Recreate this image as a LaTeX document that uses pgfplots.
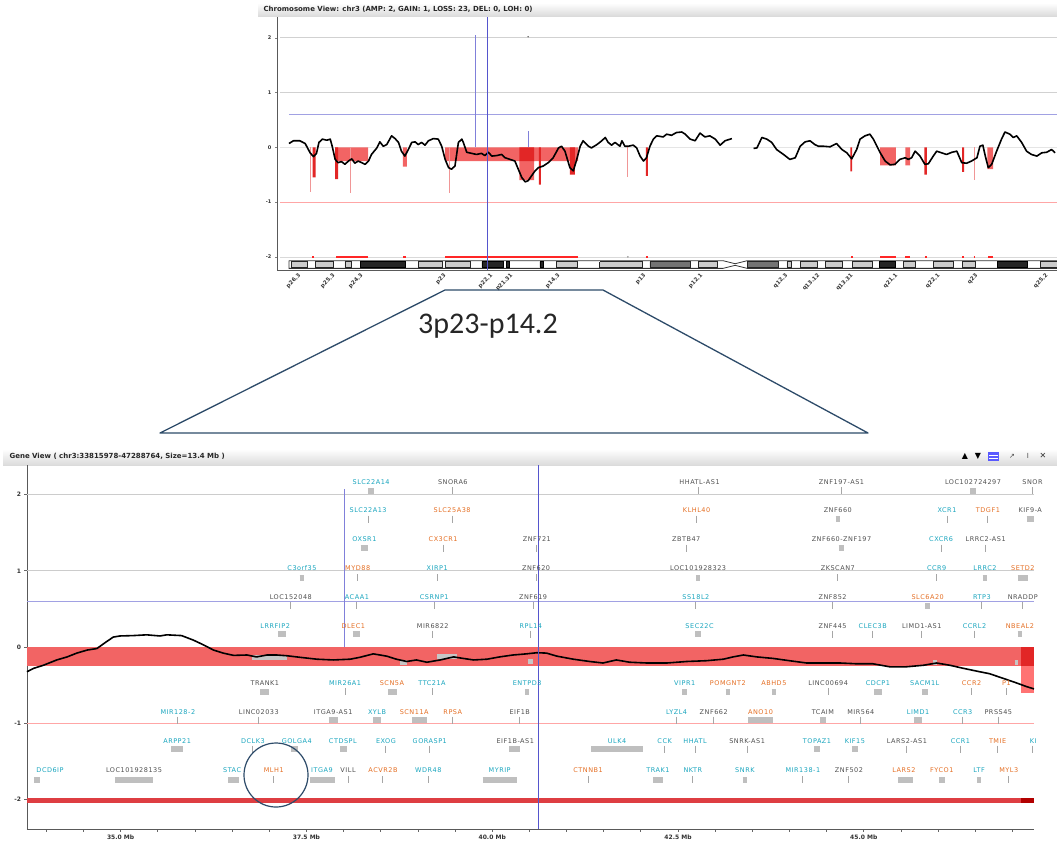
\documentclass[border=0pt]{standalone}
\usepackage{fontspec}
\setmainfont{DejaVu Sans}
\newfontfamily\genefont[LetterSpace=8]{DejaVu Sans}
\newfontfamily\calib{Carlito}
\usepackage{pgfplots}
\pgfplotsset{compat=1.18}
\definecolor{gcyan}{RGB}{25,165,190}
\definecolor{gorange}{RGB}{228,110,35}
\definecolor{ggray}{RGB}{80,80,80}
\definecolor{lossred}{RGB}{242,100,100}
\definecolor{darkloss}{RGB}{226,38,38}
\definecolor{pinkline}{RGB}{240,150,150}
\definecolor{cnvblue}{RGB}{85,85,205}
\definecolor{trap}{RGB}{45,75,105}
\definecolor{bandred}{RGB}{222,62,66}
\newcommand{\glfont}{\genefont\fontsize{6.5}{7.5}\selectfont}
\newcommand{\gnc}[3]{\node[inner sep=0pt,text=gcyan,font=\glfont] at (axis cs:#1,#2) {#3};}
\newcommand{\gno}[3]{\node[inner sep=0pt,text=gorange,font=\glfont] at (axis cs:#1,#2) {#3};}
\newcommand{\gny}[3]{\node[inner sep=0pt,text=ggray,font=\glfont] at (axis cs:#1,#2) {#3};}
\begin{document}
\begin{tikzpicture}[x=1pt,y=1pt]
\path[use as bounding box] (0,0) rectangle (1057,-841);
% ---------- title bars ----------
\shade[top color=white, bottom color=gray!28] (258,-3) rectangle (1057,-16);
\node[anchor=west, font=\bfseries\fontsize{7}{8}\selectfont, text=black!85] at (260,-9.5) {Chromosome View: chr3 (AMP: 2, GAIN: 1, LOSS: 23, DEL: 0, LOH: 0)};
% ---------- chromosome view ----------
\begin{axis}[at={(277pt,-17pt)}, anchor=north west, scale only axis,
  width=780pt, height=253pt,
  xmin=-2.44, xmax=156.4, ymin=-2.24, ymax=2.38,
  axis lines*=left, axis line style={draw=black!65, line width=0.8pt},
  clip=false, unbounded coords=jump,
  ytick={-2,-1,0,1,2}, yticklabels={-2,-1,0,1,2},
  yticklabel style={font=\bfseries\fontsize{5}{6}\selectfont, text=black!80},
  xtick={1.8,8.8,14.5,31.4,40.9,45.0,54.6,72.1,83.7,101.0,107.5,114.3,123.4,132.0,139.7,154.0},
  xticklabels={p26.3,p25.3,p24.3,p23,p22.1,p21.31,p14.3,p13,p12.1,q12.3,q13.12,q13.31,q21.1,q22.1,q23,q25.2},
  xticklabel style={font=\bfseries\fontsize{5.5}{6}\selectfont, rotate=45, anchor=north east, text=black!80, inner sep=0.5pt},
  xtick style={draw=none},
  tick align=outside, major tick length=2pt, ytick style={black!50}]
% reference lines
\addplot[black!18, line width=0.8pt] coordinates {(-1.8,2) (156.4,2)};
\addplot[black!18, line width=0.8pt] coordinates {(-1.8,1) (156.4,1)};
\addplot[black!10, line width=0.6pt] coordinates {(-1.8,0) (156.4,0)};
\addplot[black!15, line width=0.6pt] coordinates {(-1.8,-2) (156.4,-2)};
\addplot[cnvblue!55, line width=0.7pt] coordinates {(0,0.6) (156.4,0.6)};
\addplot[red!35, line width=0.7pt] coordinates {(-1.8,-1) (156.4,-1)};
% loss areas
\addplot[fill=lossred, draw=none] coordinates {
(9.4,0)(16.1,0)(16.1,-0.25)(9.4,-0.25)(9.4,nan)
(23.2,0)(24.0,0)(24.0,-0.35)(23.2,-0.35)(23.2,nan)
(31.8,0)(46.9,0)(46.9,-0.25)(31.8,-0.25)(31.8,nan)
(46.9,0)(49.9,0)(49.9,-0.6)(46.9,-0.6)(46.9,nan)
(49.9,0)(58.9,0)(58.9,-0.25)(49.9,-0.25)(49.9,nan)
(120.4,0)(123.6,0)(123.6,-0.33)(120.4,-0.33)(120.4,nan)
(125.5,0)(126.5,0)(126.5,-0.33)(125.5,-0.33)(125.5,nan)
(142.2,0)(143.4,0)(143.4,-0.40)(142.2,-0.40)};
\addplot[fill=darkloss, draw=none] coordinates {
(9.4,0)(10.0,0)(10.0,-0.58)(9.4,-0.58)(9.4,nan)
(4.8,0)(5.4,0)(5.4,-0.55)(4.8,-0.55)(4.8,nan)
(46.9,0)(49.9,0)(49.9,-0.25)(46.9,-0.25)(46.9,nan)
(57.2,0)(58.2,0)(58.2,-0.5)(57.2,-0.5)(57.2,nan)
(50.9,0)(51.3,0)(51.3,-0.68)(50.9,-0.68)(50.9,nan)
(72.7,0)(73.1,0)(73.1,-0.52)(72.7,-0.52)(72.7,nan)
(114.3,0)(114.7,0)(114.7,-0.44)(114.3,-0.44)(114.3,nan)
(129.4,0)(129.9,0)(129.9,-0.5)(129.4,-0.5)(129.4,nan)
(137.1,0)(137.5,0)(137.5,-0.45)(137.1,-0.45)};
\addplot[pinkline, line width=1pt] coordinates {
(4.4,0)(4.4,-0.82)(4.4,nan)(12.6,0)(12.6,-0.83)(12.6,nan)(32.6,0)(32.6,-0.83)(32.6,nan)
(69.0,0)(69.0,-0.55)(69.0,nan)(139.5,0)(139.5,-0.6)};
% loss markers at -2
\addplot[red!85, line width=1.8pt] coordinates {
(4.7,-2)(5.1,-2)(5.1,nan)(9.6,-2)(16.1,-2)(16.1,nan)(23.3,-2)(23.8,-2)(23.8,nan)
(31.8,-2)(58.9,-2)(58.9,nan)(72.7,-2)(73.2,-2)(73.2,nan)(114.4,-2)(114.9,-2)(114.9,nan)
(120.4,-2)(123.6,-2)(123.6,nan)(125.5,-2)(126.5,-2)(126.5,nan)(129.5,-2)(129.9,-2)(129.9,nan)
(137.1,-2)(137.5,-2)(137.5,nan)(139.4,-2)(139.7,-2)(139.7,nan)(142.4,-2)(143.4,-2)};
\addplot[only marks, mark=*, mark size=0.6pt, black!40] coordinates {(69.0,-2)};
% ideogram
\addplot[fill=white, draw=black!80, line width=0.8pt] coordinates {
(0,-2.07)(88.4,-2.07)(90.85,-2.125)(93.3,-2.07)(156.4,-2.07)(156.4,-2.21)(93.3,-2.21)(90.85,-2.155)(88.4,-2.21)(0,-2.21)(0,-2.07)};
\addplot[fill=gray!40, draw=black!85, line width=0.7pt] coordinates {
(0.4,-2.09)(3.7,-2.09)(3.7,-2.19)(0.4,-2.19)(0.4,-2.09)(0.4,nan)
(5.3,-2.09)(9.0,-2.09)(9.0,-2.19)(5.3,-2.19)(5.3,-2.09)(5.3,nan)
(11.4,-2.09)(12.6,-2.09)(12.6,-2.19)(11.4,-2.19)(11.4,-2.09)(11.4,nan)
(26.3,-2.09)(31.2,-2.09)(31.2,-2.19)(26.3,-2.19)(26.3,-2.09)(26.3,nan)
(31.8,-2.09)(36.9,-2.09)(36.9,-2.19)(31.8,-2.19)(31.8,-2.09)(31.8,nan)
(54.4,-2.09)(58.7,-2.09)(58.7,-2.19)(54.4,-2.19)(54.4,-2.09)(54.4,nan)
(63.3,-2.09)(71.9,-2.09)(71.9,-2.19)(63.3,-2.19)(63.3,-2.09)(63.3,nan)
(83.3,-2.09)(87.2,-2.09)(87.2,-2.19)(83.3,-2.19)(83.3,-2.09)(83.3,nan)
(101.4,-2.09)(102.4,-2.09)(102.4,-2.19)(101.4,-2.19)(101.4,-2.09)(101.4,nan)
(104.1,-2.09)(107.5,-2.09)(107.5,-2.19)(104.1,-2.19)(104.1,-2.09)(104.1,nan)
(109.2,-2.09)(112.6,-2.09)(112.6,-2.19)(109.2,-2.19)(109.2,-2.09)(109.2,nan)
(114.7,-2.09)(118.7,-2.09)(118.7,-2.19)(114.7,-2.19)(114.7,-2.09)(114.7,nan)
(125.1,-2.09)(127.5,-2.09)(127.5,-2.19)(125.1,-2.19)(125.1,-2.09)(125.1,nan)
(131.2,-2.09)(135.2,-2.09)(135.2,-2.19)(131.2,-2.19)(131.2,-2.09)(131.2,nan)
(137.1,-2.09)(139.7,-2.09)(139.7,-2.19)(137.1,-2.19)(137.1,-2.09)(137.1,nan)
(153.0,-2.09)(156.4,-2.09)(156.4,-2.19)(153.0,-2.19)(153.0,-2.09)};
\addplot[fill=black!55, draw=black!85, line width=0.7pt] coordinates {
(73.5,-2.09)(81.7,-2.09)(81.7,-2.19)(73.5,-2.19)(73.5,-2.09)(73.5,nan)
(93.3,-2.09)(99.6,-2.09)(99.6,-2.19)(93.3,-2.19)(93.3,-2.09)};
\addplot[fill=black!85, draw=black, line width=0.7pt] coordinates {
(14.5,-2.09)(23.6,-2.09)(23.6,-2.19)(14.5,-2.19)(14.5,-2.09)(14.5,nan)
(39.3,-2.09)(43.6,-2.09)(43.6,-2.19)(39.3,-2.19)(39.3,-2.09)(39.3,nan)
(44.2,-2.09)(44.8,-2.09)(44.8,-2.19)(44.2,-2.19)(44.2,-2.09)(44.2,nan)
(51.1,-2.09)(51.7,-2.09)(51.7,-2.19)(51.1,-2.19)(51.1,-2.09)(51.1,nan)
(120.2,-2.09)(123.4,-2.09)(123.4,-2.19)(120.2,-2.19)(120.2,-2.09)(120.2,nan)
(144.2,-2.09)(150.3,-2.09)(150.3,-2.19)(144.2,-2.19)(144.2,-2.09)};
% log2 ratio trace
\addplot[black, line width=1.6pt, line join=round] coordinates {
(0,0.07)(0.9,0.12)(2.2,0.12)(3.3,0.07)(4.3,-0.10)(5.0,-0.17)(5.6,-0.11)(6.1,0.09)(6.8,0.15)(7.7,0.13)(8.4,0.15)(8.8,0.02)(9.4,-0.22)(10.0,-0.28)(10.7,-0.26)(11.4,-0.31)(12.1,-0.25)(12.8,-0.21)(13.4,-0.29)(14.1,-0.25)(14.8,-0.28)(15.5,-0.31)(16.2,-0.25)(16.8,-0.13)(17.9,-0.01)(18.5,0.10)(19.2,0.02)(19.9,0.05)(20.9,0.21)(21.6,0.16)(22.3,0.09)(22.9,-0.07)(23.6,-0.16)(24.3,-0.04)(25.0,0.09)(25.7,0.10)(26.3,0.05)(27.0,0.09)(27.7,0.04)(28.4,0.12)(29.4,0.16)(30.4,0.15)(31.1,0.02)(31.8,-0.22)(32.5,-0.37)(33.1,-0.40)(33.8,-0.34)(34.5,0.09)(35.2,0.15)(35.5,0.09)(36.2,-0.09)(37.2,-0.11)(38.2,-0.13)(39.2,-0.11)(39.9,-0.15)(40.6,-0.09)(41.3,-0.16)(42.3,-0.15)(43.3,-0.13)(44.0,-0.19)(45.0,-0.22)(46.0,-0.25)(46.7,-0.40)(47.4,-0.55)(48.1,-0.63)(48.7,-0.61)(49.4,-0.52)(50.1,-0.43)(50.8,-0.37)(51.8,-0.34)(52.8,-0.28)(53.8,-0.19)(54.9,-0.01)(55.5,0.02)(56.2,-0.07)(57.2,-0.37)(57.9,-0.43)(58.6,-0.22)(59.3,0.02)(59.9,0.12)(61.0,0.02)(61.6,-0.01)(62.7,0.05)(63.7,0.12)(64.4,0.18)(65.0,0.09)(65.7,0.04)(66.4,0.09)(67.4,0.02)(67.8,0.12)(68.4,0.02)(69.1,0.02)(70.1,0.04)(70.8,-0.01)(71.5,-0.16)(72.2,-0.25)(72.8,-0.19)(73.5,0.02)(74.2,0.15)(74.9,0.21)(76.2,0.19)(76.9,0.24)(77.9,0.22)(78.9,0.27)(80.0,0.28)(80.7,0.24)(81.7,0.15)(82.7,0.12)(83.7,0.26)(84.7,0.19)(85.7,0.21)(86.8,0.15)(87.8,0.04)(88.8,0.12)(90.2,0.16)
(92,nan)
(94.6,-0.02)(95.3,-0.01)(96.3,0.18)(97.3,0.15)(98.3,0.09)(99.3,-0.04)(100.7,-0.13)(102.0,-0.22)(103.1,-0.19)(104.1,0.02)(105.1,0.10)(106.1,0.12)(107.1,0.05)(107.8,0.02)(108.8,0.02)(110.2,0.01)(111.5,0.07)(112.6,-0.04)(113.6,-0.10)(114.6,-0.21)(115.6,-0.04)(116.3,0.15)(117.3,0.21)(118.3,0.24)(119.0,0.15)(120.4,-0.10)(121.4,-0.25)(122.4,-0.32)(123.4,-0.31)(124.4,-0.22)(125.5,-0.19)(126.1,-0.22)(126.8,-0.19)(127.5,-0.07)(128.5,-0.16)(129.5,-0.31)(130.2,-0.30)(131.2,-0.16)(131.9,-0.07)(132.9,-0.10)(133.9,-0.13)(135.0,-0.09)(136.0,-0.07)(137.0,-0.28)(138.0,-0.29)(139.0,-0.25)(140.1,-0.19)(140.7,0.02)(141.3,0.04)(141.8,-0.16)(142.4,-0.37)(143.1,-0.31)(144.1,-0.07)(145.1,0.15)(145.8,0.28)(146.8,0.24)(147.5,0.18)(148.2,0.21)(149.2,0.09)(150.2,-0.07)(151.2,-0.13)(152.3,-0.16)(153.3,-0.10)(154.3,-0.09)(155.3,-0.04)(156.0,-0.10)};
% cursor lines
\addplot[cnvblue!75, line width=0.7pt] coordinates {(37.9,0)(37.9,2.06)};
\addplot[cnvblue!75, line width=0.7pt] coordinates {(48.7,0)(48.7,0.3)};
\addplot[cnvblue, line width=1.1pt] coordinates {(40.5,-2.24)(40.5,2.38)};
\addplot[only marks, mark=*, mark size=0.5pt, black!60] coordinates {(48.7,2.02)};
\end{axis}
% ---------- zoom trapezoid ----------
\draw[trap, line width=1.3pt, line join=round] (445,-290) -- (603,-290) -- (868,-433) -- (160,-433) -- cycle;
\node[font=\calib\fontsize{30}{30}\selectfont, text=black!85] at (488,-326) {3p23-p14.2};
% ---------- gene view title bar ----------
\shade[top color=white, bottom color=gray!28] (3,-449) rectangle (1057,-465);
\node[anchor=west, font=\bfseries\fontsize{7}{8}\selectfont, text=black!85] at (6,-456.5) {Gene View ( chr3:33815978-47288764, Size=13.4 Mb )};
\node[font=\fontsize{8}{8}\selectfont] at (965,-456) {▲};
\node[font=\fontsize{8}{8}\selectfont] at (978,-456) {▼};
\fill[blue!65] (988,-452) rectangle (999,-461);
\draw[white, line width=0.6pt] (989,-455) -- (998,-455) (989,-458) -- (998,-458);
\node[font=\fontsize{7}{7}\selectfont, text=black!70] at (1012,-456) {↗};
\node[font=\fontsize{7}{7}\selectfont, text=black!70] at (1028,-456) {I};
\node[font=\fontsize{8}{8}\selectfont, text=black!80] at (1043,-456) {✕};
% ---------- gene view ----------
\begin{axis}[at={(27pt,-465pt)}, anchor=north west, scale only axis,
  width=1007pt, height=364pt,
  xmin=33.74, xmax=47.29, ymin=-2.39, ymax=2.39,
  axis lines*=left, axis line style={draw=black!65, line width=0.8pt},
  clip=false, unbounded coords=jump,
  ytick={-2,-1,0,1,2}, yticklabels={-2,-1,0,1,2},
  yticklabel style={font=\bfseries\fontsize{6}{7}\selectfont, text=black!80},
  xtick={35,37.5,40,42.5,45},
  xticklabels={35.0 Mb,37.5 Mb,40.0 Mb,42.5 Mb,45.0 Mb},
  minor xtick={34,34.5,35.5,36,36.5,37,38,38.5,39,39.5,40.5,41,41.5,42,43,43.5,44,44.5,45.5,46,46.5,47},
  xticklabel style={font=\bfseries\fontsize{6}{7}\selectfont, text=black!80},
  tick align=outside, major tick length=2.5pt, minor tick length=2.5pt,
  tick style={black!60, line width=0.8pt}]
\addplot[black!20, line width=0.8pt] coordinates {(33.74,2) (47.29,2)};
\addplot[black!20, line width=0.8pt] coordinates {(33.74,1) (47.29,1)};
\addplot[cnvblue!55, line width=0.7pt] coordinates {(33.74,0.6) (47.29,0.6)};
\addplot[red!35, line width=0.8pt] coordinates {(33.74,-1) (47.29,-1)};
% loss segment band
\addplot[fill=lossred, draw=none] coordinates {(33.74,0)(47.12,0)(47.12,-0.25)(33.74,-0.25)};
\addplot[fill=red!55!white, draw=none] coordinates {(47.12,0)(47.29,0)(47.29,-0.6)(47.12,-0.6)};
\addplot[fill=darkloss, draw=none] coordinates {(47.12,0)(47.29,0)(47.29,-0.25)(47.12,-0.25)};
\addplot[bandred, line width=5pt] coordinates {(33.74,-2.02)(47.12,-2.02)};
\addplot[red!70!black, line width=5pt] coordinates {(47.12,-2.02)(47.29,-2.02)};
% genes inside the band
\addplot[draw=gray!45, line width=5pt] coordinates {
(36.77,-0.14)(37.24,-0.14)(37.24,nan)(38.76,-0.2)(38.85,-0.2)(38.85,nan)(39.26,-0.12)(39.53,-0.12)(39.53,nan)
(40.48,-0.19)(40.55,-0.19)(40.55,nan)(45.93,-0.2)(45.99,-0.2)(45.99,nan)(47.03,-0.2)(47.08,-0.2)};
% log2 ratio trace
\addplot[black, line width=1.6pt, line join=round] coordinates {
(33.74,-0.325)(33.83,-0.28)(33.96,-0.24)(34.14,-0.17)(34.28,-0.13)(34.41,-0.08)(34.55,-0.04)(34.68,-0.02)(34.81,0.07)(34.90,0.13)(34.99,0.145)(35.17,0.15)(35.35,0.16)(35.53,0.145)(35.62,0.16)(35.82,0.15)(35.98,0.09)(36.11,0.03)(36.25,-0.04)(36.38,-0.08)(36.52,-0.11)(36.70,-0.105)(36.83,-0.13)(36.97,-0.105)(37.10,-0.105)(37.24,-0.115)(37.41,-0.135)(37.64,-0.16)(37.86,-0.17)(38.09,-0.16)(38.22,-0.135)(38.40,-0.09)(38.58,-0.12)(38.71,-0.16)(38.85,-0.19)(38.98,-0.17)(39.12,-0.20)(39.30,-0.17)(39.48,-0.13)(39.61,-0.15)(39.75,-0.17)(39.93,-0.16)(40.10,-0.13)(40.28,-0.105)(40.46,-0.09)(40.60,-0.075)(40.73,-0.08)(40.87,-0.12)(41.09,-0.16)(41.31,-0.19)(41.49,-0.21)(41.67,-0.17)(41.85,-0.20)(42.08,-0.21)(42.35,-0.21)(42.62,-0.19)(42.88,-0.18)(43.11,-0.16)(43.24,-0.13)(43.38,-0.105)(43.56,-0.13)(43.78,-0.15)(44.00,-0.18)(44.23,-0.21)(44.45,-0.21)(44.68,-0.21)(44.90,-0.22)(45.12,-0.22)(45.35,-0.26)(45.57,-0.26)(45.80,-0.24)(45.98,-0.21)(46.16,-0.24)(46.34,-0.28)(46.56,-0.325)(46.69,-0.35)(46.87,-0.41)(47.05,-0.47)(47.19,-0.52)(47.29,-0.55)};
% cursor lines
\addplot[cnvblue!75, line width=0.8pt] coordinates {(38.01,0)(38.01,2.07)};
\addplot[cnvblue, line width=1.2pt] coordinates {(40.62,-2.39)(40.62,2.39)};
% gene extents (boxes)
\addplot[draw=gray!50, line width=6pt] coordinates {
(38.33,2.05)(38.41,2.05)(38.41,nan)(46.43,2.05)(46.51,2.05)(46.51,nan)
(44.62,1.68)(44.68,1.68)(44.68,nan)(47.19,1.68)(47.29,1.68)(47.29,nan)
(38.23,1.30)(38.33,1.30)(38.33,nan)(44.66,1.30)(44.74,1.30)(44.74,nan)
(37.41,0.91)(37.47,0.91)(37.47,nan)(42.74,0.91)(42.80,0.91)(42.80,nan)(46.60,0.91)(46.66,0.91)(46.66,nan)(47.07,0.91)(47.21,0.91)(47.21,nan)
(45.83,0.54)(45.89,0.54)(45.89,nan)
(37.12,0.17)(37.22,0.17)(37.22,nan)(38.12,0.17)(38.22,0.17)(38.22,nan)(42.73,0.17)(42.81,0.17)(42.81,nan)(47.07,0.17)(47.13,0.17)(47.13,nan)
(36.88,-0.59)(37.00,-0.59)(37.00,nan)(38.60,-0.59)(38.72,-0.59)(38.72,nan)(40.44,-0.59)(40.50,-0.59)(40.50,nan)(42.56,-0.59)(42.62,-0.59)(42.62,nan)(43.14,-0.59)(43.20,-0.59)(43.20,nan)(43.76,-0.59)(43.82,-0.59)(43.82,nan)(45.14,-0.59)(45.24,-0.59)(45.24,nan)(45.78,-0.59)(45.86,-0.59)(45.86,nan)
(37.80,-0.96)(37.92,-0.96)(37.92,nan)(38.40,-0.96)(38.50,-0.96)(38.50,nan)(38.92,-0.96)(39.12,-0.96)(39.12,nan)(43.44,-0.96)(43.78,-0.96)(43.78,nan)(44.41,-0.96)(44.49,-0.96)(44.49,nan)(45.68,-0.96)(45.78,-0.96)(45.78,nan)
(35.68,-1.34)(35.84,-1.34)(35.84,nan)(37.29,-1.34)(37.39,-1.34)(37.39,nan)(37.95,-1.34)(38.05,-1.34)(38.05,nan)(40.23,-1.34)(40.37,-1.34)(40.37,nan)(41.33,-1.34)(42.03,-1.34)(42.03,nan)(44.33,-1.34)(44.41,-1.34)(44.41,nan)(44.84,-1.34)(44.92,-1.34)(44.92,nan)
(33.84,-1.74)(33.92,-1.74)(33.92,nan)(34.93,-1.74)(35.43,-1.74)(35.43,nan)(36.45,-1.74)(36.59,-1.74)(36.59,nan)(37.55,-1.74)(37.89,-1.74)(37.89,nan)(39.87,-1.74)(40.33,-1.74)(40.33,nan)(42.16,-1.74)(42.30,-1.74)(42.30,nan)(43.37,-1.74)(43.43,-1.74)(43.43,nan)(45.46,-1.74)(45.66,-1.74)(45.66,nan)(46.01,-1.74)(46.09,-1.74)(46.09,nan)(46.52,-1.74)(46.58,-1.74)};
% gene extents (narrow)
\addplot[only marks, mark=|, mark size=3.5pt, mark options={draw=gray!70, line width=1pt}] coordinates {
(39.47,2.05)(42.77,2.05)(44.70,2.05)(47.27,2.05)
(38.33,1.68)(39.46,1.68)(42.75,1.68)(46.12,1.68)(46.67,1.68)
(39.34,1.30)(40.60,1.30)(42.61,1.30)(46.04,1.30)(46.64,1.30)
(38.19,0.91)(39.26,0.91)(40.59,0.91)(44.65,0.91)(45.98,0.91)
(37.29,0.54)(38.18,0.54)(39.22,0.54)(40.55,0.54)(42.74,0.54)(44.58,0.54)(46.59,0.54)(47.14,0.54)
(39.20,0.17)(40.52,0.17)(44.58,0.17)(45.12,0.17)(45.78,0.17)(46.49,0.17)
(38.02,-0.59)(39.19,-0.59)(44.52,-0.59)(46.45,-0.59)(46.92,-0.59)
(35.77,-0.96)(36.86,-0.96)(39.47,-0.96)(40.37,-0.96)(42.48,-0.96)(42.98,-0.96)(44.96,-0.96)(46.33,-0.96)(46.81,-0.96)
(36.78,-1.34)(38.57,-1.34)(39.16,-1.34)(42.32,-1.34)(42.73,-1.34)(43.43,-1.34)(45.58,-1.34)(46.30,-1.34)(46.80,-1.34)(47.27,-1.34)
(37.06,-1.74)(38.06,-1.74)(38.53,-1.74)(39.14,-1.74)(41.29,-1.74)(42.70,-1.74)(44.18,-1.74)(44.80,-1.74)(46.95,-1.74)};
% gene names
\gnc{38.37}{2.17}{SLC22A14}
\gny{39.47}{2.17}{SNORA6}
\gny{42.79}{2.17}{HHATL-AS1}
\gny{44.70}{2.17}{ZNF197-AS1}
\gny{46.47}{2.17}{LOC102724297}
\gny{47.27}{2.17}{SNOR}
\gnc{38.33}{1.80}{SLC22A13}
\gno{39.46}{1.80}{SLC25A38}
\gno{42.75}{1.80}{KLHL40}
\gny{44.65}{1.80}{ZNF660}
\gnc{46.12}{1.80}{XCR1}
\gno{46.67}{1.80}{TDGF1}
\gny{47.24}{1.80}{KIF9-A}
\gnc{38.28}{1.42}{OXSR1}
\gno{39.34}{1.42}{CX3CR1}
\gny{40.60}{1.42}{ZNF721}
\gny{42.61}{1.42}{ZBTB47}
\gny{44.70}{1.42}{ZNF660-ZNF197}
\gnc{46.04}{1.42}{CXCR6}
\gny{46.64}{1.42}{LRRC2-AS1}
\gnc{37.44}{1.04}{C3orf35}
\gno{38.19}{1.04}{MYD88}
\gnc{39.26}{1.04}{XIRP1}
\gny{40.59}{1.04}{ZNF620}
\gny{42.77}{1.04}{LOC101928323}
\gny{44.65}{1.04}{ZKSCAN7}
\gnc{45.98}{1.04}{CCR9}
\gnc{46.63}{1.04}{LRRC2}
\gno{47.14}{1.04}{SETD2}
\gny{37.29}{0.66}{LOC152048}
\gnc{38.18}{0.66}{ACAA1}
\gnc{39.22}{0.66}{CSRNP1}
\gny{40.55}{0.66}{ZNF619}
\gnc{42.74}{0.66}{SS18L2}
\gny{44.58}{0.66}{ZNF852}
\gno{45.86}{0.66}{SLC6A20}
\gnc{46.59}{0.66}{RTP3}
\gny{47.14}{0.66}{NRADDP}
\gnc{37.08}{0.28}{LRRFIP2}
\gno{38.13}{0.28}{DLEC1}
\gny{39.20}{0.28}{MIR6822}
\gnc{40.52}{0.28}{RPL14}
\gnc{42.79}{0.28}{SEC22C}
\gny{44.58}{0.28}{ZNF445}
\gnc{45.12}{0.28}{CLEC3B}
\gny{45.78}{0.28}{LIMD1-AS1}
\gnc{46.49}{0.28}{CCRL2}
\gno{47.10}{0.28}{NBEAL2}
\gny{36.94}{-0.47}{TRANK1}
\gnc{38.02}{-0.47}{MIR26A1}
\gno{38.65}{-0.47}{SCN5A}
\gnc{39.19}{-0.47}{TTC21A}
\gnc{40.47}{-0.47}{ENTPD3}
\gnc{42.59}{-0.47}{VIPR1}
\gno{43.17}{-0.47}{POMGNT2}
\gno{43.79}{-0.47}{ABHD5}
\gny{44.52}{-0.47}{LINC00694}
\gnc{45.19}{-0.47}{CDCP1}
\gnc{45.82}{-0.47}{SACM1L}
\gno{46.45}{-0.47}{CCR2}
\gno{46.92}{-0.47}{P1}
\gnc{35.77}{-0.86}{MIR128-2}
\gny{36.86}{-0.86}{LINC02033}
\gny{37.86}{-0.86}{ITGA9-AS1}
\gnc{38.45}{-0.86}{XYLB}
\gno{38.95}{-0.86}{SCN11A}
\gno{39.47}{-0.86}{RPSA}
\gny{40.37}{-0.86}{EIF1B}
\gnc{42.48}{-0.86}{LYZL4}
\gny{42.98}{-0.86}{ZNF662}
\gno{43.61}{-0.86}{ANO10}
\gny{44.45}{-0.86}{TCAIM}
\gny{44.96}{-0.86}{MIR564}
\gnc{45.73}{-0.86}{LIMD1}
\gnc{46.33}{-0.86}{CCR3}
\gny{46.81}{-0.86}{PRSS45}
\gnc{35.76}{-1.24}{ARPP21}
\gnc{36.78}{-1.24}{DCLK3}
\gnc{37.37}{-1.24}{GOLGA4}
\gnc{37.99}{-1.24}{CTDSPL}
\gnc{38.57}{-1.24}{EXOG}
\gnc{39.16}{-1.24}{GORASP1}
\gny{40.31}{-1.24}{EIF1B-AS1}
\gnc{41.68}{-1.24}{ULK4}
\gnc{42.32}{-1.24}{CCK}
\gnc{42.73}{-1.24}{HHATL}
\gny{43.43}{-1.24}{SNRK-AS1}
\gnc{44.37}{-1.24}{TOPAZ1}
\gnc{44.88}{-1.24}{KIF15}
\gny{45.58}{-1.24}{LARS2-AS1}
\gnc{46.30}{-1.24}{CCR1}
\gno{46.80}{-1.24}{TMIE}
\gnc{47.28}{-1.24}{KI}
\gnc{34.05}{-1.62}{DCD6IP}
\gny{35.18}{-1.62}{LOC101928135}
\gnc{36.50}{-1.62}{STAC}
\gno{37.06}{-1.62}{MLH1}
\gnc{37.71}{-1.62}{ITGA9}
\gny{38.06}{-1.62}{VILL}
\gno{38.53}{-1.62}{ACVR2B}
\gnc{39.14}{-1.62}{WDR48}
\gnc{40.10}{-1.62}{MYRIP}
\gno{41.29}{-1.62}{CTNNB1}
\gnc{42.23}{-1.62}{TRAK1}
\gnc{42.70}{-1.62}{NKTR}
\gnc{43.40}{-1.62}{SNRK}
\gnc{44.18}{-1.62}{MIR138-1}
\gny{44.80}{-1.62}{ZNF502}
\gno{45.54}{-1.62}{LARS2}
\gno{46.05}{-1.62}{FYCO1}
\gnc{46.55}{-1.62}{LTF}
\gno{46.95}{-1.62}{MYL3}
\end{axis}
\draw[trap, line width=1.2pt] (276,-775) circle (32);
\end{tikzpicture}
\end{document}
